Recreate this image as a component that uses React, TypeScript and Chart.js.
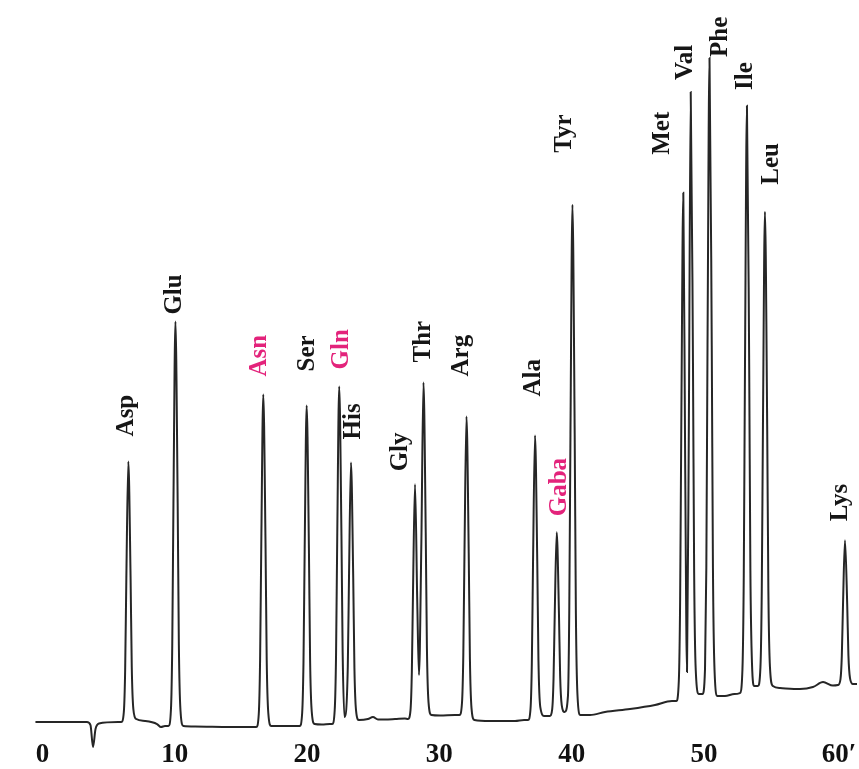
import { useEffect, useRef } from 'react';
import { Chart, registerables } from 'chart.js';

Chart.register(...registerables);

// Retention time (min) and detector signal (arbitrary units)
const traceTime = [
  -0.53, 3.36, 3.63, 3.82, 4.01, 4.27, 5.71,
  5.96, 6.15, 6.25, 6.34, 6.49, 6.66, 6.75, 6.87, 7.09, 7.75, 8.66, 8.96, 9.26,
  9.52, 9.71, 9.81, 9.9, 10.05, 10.22, 10.31, 10.43, 10.65, 11.53, 14.17, 15.84,
  16.16, 16.35, 16.45, 16.54, 16.69, 16.86, 16.95, 17.07, 17.29, 18.33, 19.09,
  19.44, 19.63, 19.73, 19.82, 19.97, 20.14, 20.23, 20.35, 20.57, 21.13, 21.73,
  21.9, 22.09, 22.19, 22.28, 22.43, 22.6, 22.69, 22.83,
  23.08, 23.17, 23.32, 23.49, 23.58, 23.7, 23.92, 24.6, 24.98, 25.36, 26.65, 27.4,
  27.63, 27.82, 27.92, 28.01, 28.16, 28.33, 28.46,
  28.64, 28.8, 28.97, 29.06, 29.18, 29.4, 30.05, 31.18,
  31.52, 31.71, 31.81, 31.9, 32.05, 32.22, 32.31, 32.43, 32.65, 33.83, 35.72, 36.4,
  36.7, 36.89, 36.99, 37.08, 37.23, 37.4, 37.49, 37.63, 37.95,
  38.34, 38.53, 38.63, 38.72, 38.87, 39.04, 39.13, 39.25, 39.47,
  39.72, 39.82, 39.91, 40.06, 40.23, 40.32, 40.44, 40.66, 41.39, 42.52, 44.41, 46.3, 47.58,
  47.91, 48.1, 48.2, 48.29, 48.44, 48.58, 48.72,
  48.86, 49.0, 49.17, 49.26, 49.38, 49.62,
  49.89, 50.08, 50.18, 50.27, 50.42, 50.59, 50.68, 50.8, 51.02, 51.59, 52.3,
  52.72, 52.91, 53.01, 53.1, 53.25, 53.42, 53.51, 53.63, 53.8,
  54.08, 54.27, 54.37, 54.46, 54.61, 54.78, 54.87, 54.99, 55.21, 55.75, 57.26, 58.24, 59.0, 59.75,
  60.13, 60.32, 60.42, 60.51, 60.66, 60.83, 60.92, 61.04, 61.26, 61.57,
];

const traceSignal = [
  0, 0, -0.3, -2.5, -0.7, -0.15, 0,
  0, 1.0, 5.2, 14.4, 26.1, 14.5, 5.5, 1.3, 0.3, 0.1, -0.2, -0.5, -0.4,
  -0.4, 1.2, 7.7, 21.9, 40.1, 21.9, 7.7, 1.2, -0.4, -0.45, -0.5, -0.5,
  -0.5, 0.8, 6.2, 17.8, 32.8, 17.9, 6.2, 0.9, -0.4, -0.4, -0.4,
  -0.4, 0.9, 6.0, 17.3, 31.7, 17.4, 6.2, 1.1, -0.2, -0.25, -0.2,
  -0.2, 1.2, 6.6, 18.4, 33.6, 18.7, 7.0, 0.5,
  5.6, 14.5, 26.0, 14.4, 5.4, 1.2, 0.2, 0.3, 0.5, 0.25, 0.3, 0.35,
  0.3, 1.2, 5.0, 13.2, 23.8, 12.0, 4.7,
  18.0, 34.0, 19.0, 7.4, 2.0, 0.7, 0.65, 0.7,
  0.7, 1.9, 6.7, 17.1, 30.6, 16.9, 6.3, 1.4, 0.2, 0.1, 0.1, 0.2,
  0.2, 1.3, 5.9, 15.9, 28.7, 16.1, 6.2, 1.5, 0.6,
  0.6, 1.3, 4.3, 10.7, 19.0, 10.9, 4.6, 1.7, 1.0,
  2.6, 11.2, 28.9, 51.8, 28.8, 10.9, 2.7, 0.7, 0.7, 1.0, 1.3, 1.7, 2.1,
  2.1, 4.1, 12.3, 30.1, 53.0, 26.0, 5.0,
  30.0, 63.1, 36.0, 14.9, 5.2, 2.8,
  2.8, 5.3, 15.5, 37.8, 66.5, 37.7, 15.4, 5.2, 2.6, 2.6, 2.8,
  2.9, 5.3, 14.7, 35.2, 61.7, 35.6, 15.2, 5.9, 3.6,
  3.6, 5.5, 13.1, 29.7, 51.1, 29.7, 13.1, 5.5, 3.6, 3.4, 3.3, 3.5, 4.0, 3.65,
  3.7, 4.3, 6.6, 11.7, 18.2, 11.7, 6.7, 4.4, 3.8, 3.8,
];

// Peak labels: name, and where each label starts (time, signal)
const peakNames = ['Asp', 'Glu', 'Asn', 'Ser', 'Gln', 'His', 'Gly', 'Thr', 'Arg', 'Ala', 'Gaba', 'Tyr', 'Met', 'Val', 'Phe', 'Ile', 'Leu', 'Lys'];
const labelTime = [6.39, 10.02, 16.44, 20.07, 22.6, 23.55, 27.1, 28.84, 31.67, 37.15, 39.12, 39.49, 46.9, 48.64, 51.29, 53.18, 55.11, 60.36];
const labelSignal = [28.6, 40.8, 34.6, 35.1, 35.3, 28.3, 25.1, 36.0, 34.6, 32.6, 20.6, 57.0, 56.8, 64.3, 66.6, 63.3, 53.8, 20.1];
const highlightedPeaks = ['Asn', 'Gln', 'Gaba'];

const tickValues = [0, 10, 20, 30, 40, 50, 60];
const tickLabels = ['0', '10', '20', '30', '40', '50', '\u200960\u2032'];

const X_MIN = -3.21;
const X_MAX = 61.72;
const Y_MIN = -2.0;
const Y_MAX = 72.3;

const SERIF = '"Liberation Serif", "DejaVu Serif", serif';

export default function App() {
  const ref = useRef<HTMLCanvasElement | null>(null);

  useEffect(() => {
    if (!ref.current) return;
    const points = traceTime.map((t, i) => ({ x: t, y: traceSignal[i] }));

    const labelPlugin = {
      id: 'peakLabels',
      afterDatasetsDraw(chart: any) {
        const ctx = chart.ctx;
        const xs = chart.scales.x;
        const ys = chart.scales.y;
        ctx.save();
        ctx.font = `bold 25px ${SERIF}`;
        ctx.textAlign = 'left';
        ctx.textBaseline = 'middle';
        peakNames.forEach((name, i) => {
          const px = xs.getPixelForValue(labelTime[i]);
          const py = ys.getPixelForValue(labelSignal[i]);
          ctx.save();
          ctx.translate(px, py);
          ctx.rotate(-Math.PI / 2);
          ctx.fillStyle = highlightedPeaks.includes(name) ? '#e3237b' : '#161616';
          ctx.fillText(name, 0, 0);
          ctx.restore();
        });
        ctx.restore();
      },
    };

    const chart = new Chart(ref.current, {
      type: 'line',
      data: {
        datasets: [
          {
            data: points,
            borderColor: '#262626',
            borderWidth: 2,
            pointRadius: 0,
            fill: false,
            cubicInterpolationMode: 'monotone',
            capBezierPoints: false,
            clip: false,
          } as any,
        ],
      },
      options: {
        animation: false,
        responsive: false,
        events: [],
        layout: { padding: 0 },
        plugins: { legend: { display: false }, tooltip: { enabled: false } },
        scales: {
          x: {
            type: 'linear',
            min: X_MIN,
            max: X_MAX,
            grid: { display: false, drawTicks: false },
            border: { display: false },
            afterBuildTicks: (scale: any) => {
              scale.ticks = tickValues.map((v) => ({ value: v }));
            },
            ticks: {
              padding: 0,
              autoSkip: false,
              maxRotation: 0,
              color: '#111',
              font: { family: SERIF, size: 27, weight: 'bold', lineHeight: 1 },
              callback: (v: any) => {
                const i = tickValues.indexOf(Number(v));
                return i >= 0 ? tickLabels[i] : '';
              },
            },
          },
          y: { display: false, min: Y_MIN, max: Y_MAX },
        },
      } as any,
      plugins: [labelPlugin],
    });
    return () => chart.destroy();
  }, []);

  return (
    <div style={{ position: 'absolute', left: 0, top: 0, width: 859, height: 769, background: '#fff' }}>
      <canvas ref={ref} width={859} height={769} style={{ display: 'block' }} />
    </div>
  );
}
